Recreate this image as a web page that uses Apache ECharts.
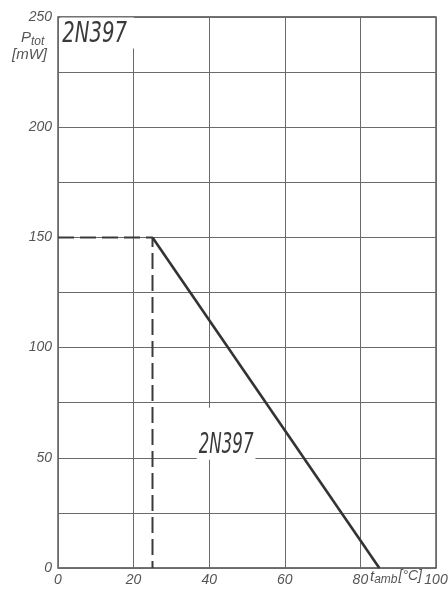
<!DOCTYPE html>
<html>
<head>
<meta charset="utf-8">
<script src="https://cdn.jsdelivr.net/npm/echarts@6/dist/echarts.min.js"></script>
<style>
  html, body { margin: 0; padding: 0; background: #fff; }
  #chart { width: 448px; height: 597px; }
</style>
</head>
<body>
<div id="chart"></div>
<script>
// Power derating of the 2N397: full rating up to the knee, then linear to zero.
const deratingTemp = [25, 85];     // t_amb, °C
const deratingPower = [150, 0];    // P_tot, mW
const ratedTemp = [0, 25, 25];     // flat rating and knee drop-line, °C
const ratedPower = [150, 150, 0];  // mW
const xTicks = [0, 20, 40, 60, 80, 100];
const yTicks = [0, 50, 100, 150, 200, 250];
const curveLabel = '2N397';
const curveLabelAt = [45, 50];     // where the curve name sits (t_amb, P_tot)

const COND = '"DejaVu Sans Condensed", "DejaVu Sans", sans-serif';
const SANS = '"Liberation Sans", "DejaVu Sans", sans-serif';
const INK = '#3a3a3a';
const LABEL = '#555';
const GRID = '#6a6a6a';

const chart = echarts.init(document.getElementById('chart'));

chart.setOption({
  animation: false,
  backgroundColor: '#fff',
  grid: {
    left: 58, right: 12, top: 17, bottom: 29,
    outerBoundsMode: 'none',
    show: true, borderColor: '#444', borderWidth: 1.3, backgroundColor: 'transparent'
  },
  xAxis: {
    type: 'value', min: 0, max: 100, interval: 20,
    axisLine: { show: false },
    axisTick: { show: false },
    splitLine: { show: true, lineStyle: { color: GRID, width: 1 } },
    axisLabel: {
      margin: 5,
      color: LABEL, fontFamily: SANS, fontStyle: 'italic', fontSize: 14,
      formatter: v => (xTicks.includes(v) ? String(v) : '')
    }
  },
  yAxis: {
    type: 'value', min: 0, max: 250, interval: 25,
    axisLine: { show: false },
    axisTick: { show: false },
    splitLine: { show: true, lineStyle: { color: GRID, width: 1 } },
    axisLabel: {
      margin: 6,
      color: LABEL, fontFamily: SANS, fontStyle: 'italic', fontSize: 14,
      formatter: v => (yTicks.includes(v) ? String(v) : '')
    }
  },
  series: [
    {
      type: 'line',
      data: ratedTemp.map((t, i) => [t, ratedPower[i]]),
      symbol: 'none',
      lineStyle: { color: INK, width: 2, type: [16, 6] },
      z: 3
    },
    {
      type: 'line',
      data: deratingTemp.map((t, i) => [t, deratingPower[i]]),
      symbol: 'none',
      lineStyle: { color: '#333', width: 2.6 },
      z: 4
    }
  ]
});

// Text overlays: device name in the corner, the curve's name, and axis titles.
// The white text boxes break the grid lines behind the lettering.
const at = chart.convertToPixel({ gridIndex: 0 }, curveLabelAt);

chart.setOption({
  graphic: [
    {
      type: 'text', x: 60, y: 17.5, scaleX: 0.78, z: 2,
      style: {
        text: curveLabel,
        font: 'italic 28px ' + COND,
        fill: INK,
        backgroundColor: '#fff',
        padding: [3, 9, 0, 3]
      }
    },
    {
      type: 'text', x: at[0] - 2, y: at[1] + 2, scaleX: 0.66, z: 2,
      style: {
        text: curveLabel,
        font: 'italic 28px ' + COND,
        fill: INK,
        align: 'center',
        verticalAlign: 'bottom',
        backgroundColor: '#fff',
        padding: [24, 3, 0, 3]
      }
    },
    {
      type: 'text', left: 21, top: 30, z: 10,
      style: {
        text: '{p|P}{s|tot}',
        rich: {
          p: { fontFamily: SANS, fontStyle: 'italic', fontSize: 15, fill: LABEL },
          s: { fontFamily: SANS, fontStyle: 'italic', fontSize: 12, fill: LABEL, padding: [8, 0, 0, 0] }
        }
      }
    },
    {
      type: 'text', left: 12, top: 47, z: 10,
      style: {
        text: '[mW]',
        font: 'italic 15px ' + SANS,
        fill: LABEL
      }
    },
    {
      type: 'text', left: 370, top: 569, z: 10,
      style: {
        text: '{t|t}{s|amb}{u|[°C]}',
        rich: {
          t: { fontFamily: SANS, fontStyle: 'italic', fontSize: 15, fill: LABEL },
          s: { fontFamily: SANS, fontStyle: 'italic', fontSize: 12, fill: LABEL, padding: [6, 1, 0, 0] },
          u: { fontFamily: SANS, fontStyle: 'italic', fontSize: 14, fill: LABEL }
        }
      }
    }
  ]
});
</script>
</body>
</html>
